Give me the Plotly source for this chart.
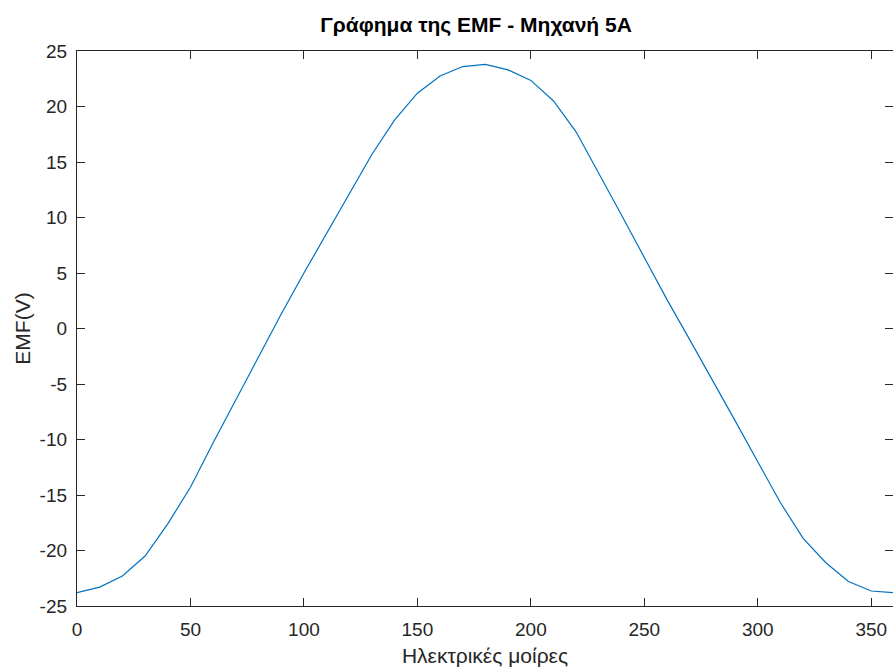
import plotly.graph_objects as go

# Electrical angle (degrees) and measured EMF (V)
degrees = list(range(0, 361, 10))
emf = [-23.8, -23.3, -22.3, -20.5, -17.6, -14.3, -10.3, -6.4, -2.5, 1.3,
       5.0, 8.6, 12.2, 15.7, 18.8, 21.2, 22.75, 23.6, 23.8, 23.3,
       22.35, 20.5, 17.7, 14.0, 10.2, 6.4, 2.6, -1.0, -4.6, -8.3,
       -12.0, -15.7, -18.9, -21.1, -22.8, -23.65, -23.8]

x_ticks = [0, 50, 100, 150, 200, 250, 300, 350]
y_ticks = [-25, -20, -15, -10, -5, 0, 5, 10, 15, 20, 25]
y_tick_labels = ["-25", "-20", "-15", "-10", "-5", "0", "5", "10", "15", "20", "25"]

axis_col = "#262626"
font_fam = "Liberation Sans, Arial, sans-serif"

fig = go.Figure()
fig.add_trace(go.Scatter(x=degrees, y=emf, mode="lines",
                         line=dict(color="#0072BD", width=1.2),
                         showlegend=False))

fig.update_layout(
    width=893, height=669,
    margin=dict(l=77, r=0, t=51, b=63),
    plot_bgcolor="white", paper_bgcolor="white",
    font=dict(family=font_fam, color=axis_col, size=19),
    title=dict(text="<b>Γράφημα της EMF - Μηχανή 5A</b>",
               x=0.489, xanchor="center", xref="paper",
               y=1 - 25 / 669, yref="container", yanchor="middle",
               font=dict(size=21, color="black", family=font_fam)),
    xaxis=dict(range=[0, 359.6], tickvals=x_ticks, ticks="inside",
               ticklen=8, tickwidth=1.3, tickcolor=axis_col,
               ticklabelstandoff=6,
               showline=True, linecolor=axis_col, linewidth=1.3,
               mirror="ticks", showgrid=False, zeroline=False,
               title=dict(text="Ηλεκτρικές μοίρες", standoff=9,
                          font=dict(size=21, color=axis_col))),
    yaxis=dict(range=[-25, 25], tickvals=y_ticks, ticktext=y_tick_labels,
               ticks="inside",
               ticklen=8, tickwidth=1.3, tickcolor=axis_col,
               ticklabelstandoff=5,
               showline=True, linecolor=axis_col, linewidth=1.3,
               mirror="ticks", showgrid=False, zeroline=False,
               title=dict(text="EMF(V)", standoff=3,
                          font=dict(size=21, color=axis_col))),
)

fig.write_html("out.html")
